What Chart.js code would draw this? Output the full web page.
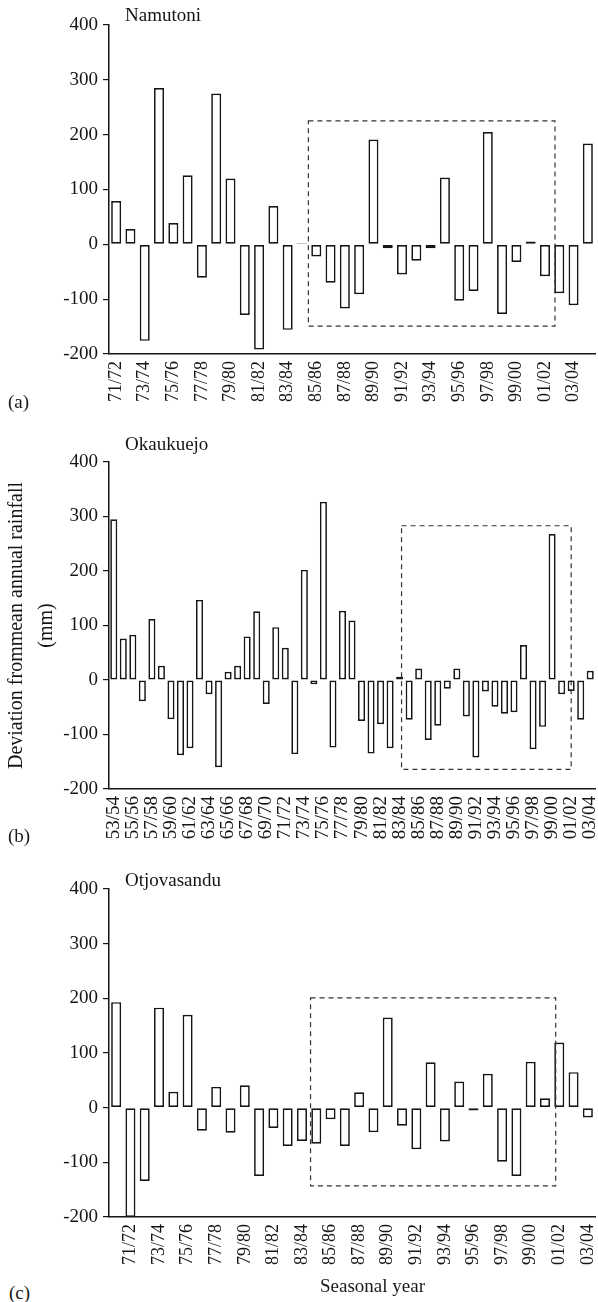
<!DOCTYPE html>
<html>
<head>
<meta charset="utf-8">
<script src="https://cdn.jsdelivr.net/npm/chart.js@4.4.1/dist/chart.umd.min.js"></script>
<style>
  body { margin: 0; width: 598px; height: 1302px; position: relative; background: #fff; overflow: hidden;
         font-family: 'Liberation Serif', serif; color: #1a1a1a; }
  canvas { position: absolute; left: 0; }
  .tag { position: absolute; font-size: 19px; line-height: 20px; white-space: nowrap; }
</style>
</head>
<body>
<canvas id="chartA" width="598" height="414" style="top:0px"></canvas>
<canvas id="chartB" width="598" height="419" style="top:430px"></canvas>
<canvas id="chartC" width="598" height="417" style="top:860px"></canvas>
<div class="tag" style="left:8px;top:392px">(a)</div>
<div class="tag" style="left:8px;top:826px">(b)</div>
<div class="tag" style="left:9px;top:1283px">(c)</div>
<div class="tag" style="left:320px;top:1276px">Seasonal year</div>

<script>
// Seasons (x categories)
const seasonsA = ['71/72','72/73','73/74','74/75','75/76','76/77','77/78','78/79','79/80','80/81',
    '81/82','82/83','83/84','84/85','85/86','86/87','87/88','88/89','89/90','90/91',
    '91/92','92/93','93/94','94/95','95/96','96/97','97/98','98/99','99/00','00/01',
    '01/02','02/03','03/04','04/05'];
const seasonsB = ['53/54','54/55','55/56','56/57','57/58','58/59','59/60','60/61','61/62','62/63',
    '63/64','64/65','65/66','66/67','67/68','68/69','69/70','70/71','71/72','72/73',
    '73/74','74/75','75/76','76/77','77/78','78/79','79/80','80/81','81/82','82/83',
    '83/84','84/85','85/86','86/87','87/88','88/89','89/90','90/91','91/92','92/93',
    '93/94','94/95','95/96','96/97','97/98','98/99','99/00','00/01','01/02','02/03','03/04'];
const seasonsC = ['70/71','71/72','72/73','73/74','74/75','75/76','76/77','77/78','78/79','79/80',
    '80/81','81/82','82/83','83/84','84/85','85/86','86/87','87/88','88/89','89/90',
    '90/91','91/92','92/93','93/94','94/95','95/96','96/97','97/98','98/99','99/00',
    '00/01','01/02','02/03','03/04'];

// Deviation from mean annual rainfall (mm)
const namutoni = [79, 28, -176, 285, 39, 126, -61, 275, 120, -129,
    -192, 70, -156, 2, -22, -70, -117, -91, 191, -7,
    -55, -30, -7, 122, -103, -85, 205, -127, -32, 5,
    -58, -89, -111, 184];
const okaukuejo = [295, 76, 83, -39, 112, 26, -72, -138, -125, 147,
    -26, -160, 15, 26, 80, 126, -44, 97, 59, -136,
    202, -8, 327, -124, 127, 109, -75, -135, -81, -125,
    6, -73, 21, -110, -84, -16, 21, -67, -142, -21,
    -49, -62, -59, 64, -127, -86, 268, -26, -20, -73, 17];
const otjovasandu = [193, -200, -134, 183, 29, 170, -42, 38, -46, 41,
    -125, -37, -70, -61, -66, -21, -70, 28, -45, 165,
    -33, -76, 83, -62, 48, -5, 62, -99, -125, 84,
    17, 119, 65, -18];

const yTicks = [-200, -100, 0, 100, 200, 300, 400];

// dashed highlight boxes: [fromIndex, toIndex, low, high]
const boxA = [13.45, 30.7, -149, 225];
const boxB = [30.2, 48.0, -164, 283];
const boxC = [13.6, 30.75, -143, 201];

const ink = '#151515';
const serif = 'Liberation Serif';

const dashedBox = {
    id: 'dashedBox',
    afterDatasetsDraw(chart, args, opts) {
        const b = opts.box;
        if (!b) return;
        const {ctx, scales: {x, y}} = chart;
        const x0 = x.getPixelForValue(b[0]), x1 = x.getPixelForValue(b[1]);
        const y0 = y.getPixelForValue(b[3]), y1 = y.getPixelForValue(b[2]);
        ctx.save();
        ctx.setLineDash([5, 4]);
        ctx.lineWidth = 1.2;
        ctx.strokeStyle = '#333';
        ctx.strokeRect(x0, y0, x1 - x0, y1 - y0);
        ctx.restore();
    }
};

const stationName = {
    id: 'stationName',
    afterDraw(chart, args, opts) {
        const {ctx, chartArea} = chart;
        ctx.save();
        ctx.font = '19px "' + serif + '"';
        ctx.fillStyle = ink;
        ctx.textBaseline = 'alphabetic';
        ctx.fillText(opts.text, chartArea.left + 16, chartArea.top - opts.dy);
        ctx.restore();
    }
};

function drawPanel(id, seasons, values, cfg) {
    new Chart(document.getElementById(id), {
        type: 'bar',
        data: {
            labels: seasons,
            datasets: [{
                data: values,
                backgroundColor: '#fff',
                borderColor: ink,
                borderWidth: 1.7,
                borderSkipped: false,
                barPercentage: cfg.barPct,
                categoryPercentage: 1
            }]
        },
        options: {
            responsive: false,
            animation: false,
            layout: { autoPadding: false, padding: { top: cfg.top, right: 3, bottom: 0, left: 0 } },
            plugins: {
                legend: { display: false },
                tooltip: { enabled: false },
                dashedBox: { box: cfg.box },
                stationName: { text: cfg.name, dy: cfg.nameDy }
            },
            scales: {
                x: {
                    offset: true,
                    // fixed label band; drop the extra side padding reserved for rotated labels
                    afterFit: s => { s.height = 60; s.paddingLeft = 0; s.paddingRight = 0; },
                    grid: { display: false, drawTicks: false },
                    border: { display: true, color: ink, width: 1.5 },
                    ticks: {
                        autoSkip: false,
                        maxRotation: 90,
                        minRotation: 90,
                        padding: 7,
                        color: ink,
                        font: { family: serif, size: cfg.xFont },
                        callback: function (val, i) {
                            return i % 2 === cfg.parity ? this.getLabelForValue(val) : '';
                        }
                    }
                },
                y: {
                    min: -200,
                    max: 400,
                    afterFit: s => { s.width = 109; s.paddingTop = 0; s.paddingBottom = 0; },
                    afterBuildTicks: s => { s.ticks = yTicks.map(v => ({ value: v })); },
                    grid: { display: true, drawOnChartArea: false, drawTicks: true, tickLength: 6, color: ink, lineWidth: 1.2 },
                    border: { display: true, color: ink, width: 1.5 },
                    ticks: { padding: 5, color: ink, font: { family: serif, size: 19 } },
                    title: {
                        display: !!cfg.yTitle,
                        text: cfg.yTitle || '',
                        color: ink,
                        font: { family: serif, size: 20, lineHeight: 1.5 },
                        padding: { top: 2, bottom: 0 }
                    }
                }
            }
        },
        plugins: [dashedBox, stationName]
    });
}

drawPanel('chartA', seasonsA, namutoni,
    { top: 25, barPct: 0.7, box: boxA, name: 'Namutoni', nameDy: 4, xFont: 18, parity: 0 });
drawPanel('chartB', seasonsB, okaukuejo,
    { top: 32, barPct: 0.74, box: boxB, name: 'Okaukuejo', nameDy: 12, xFont: 19, parity: 0,
      yTitle: ['Deviation frommean annual rainfall', '(mm)'] });
drawPanel('chartC', seasonsC, otjovasandu,
    { top: 29, barPct: 0.7, box: boxC, name: 'Otjovasandu', nameDy: 3, xFont: 18, parity: 1 });
</script>
</body>
</html>
